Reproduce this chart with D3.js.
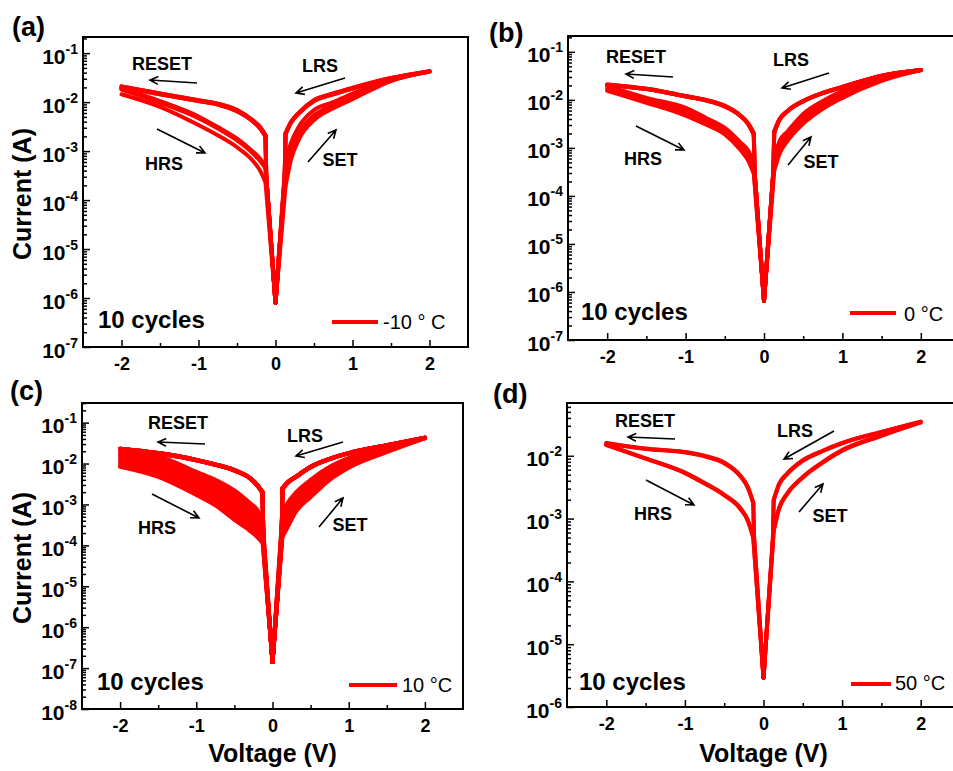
<!DOCTYPE html>
<html lang="en">
<head>
<meta charset="utf-8">
<title>I-V curves, 4 temperatures</title>
<script src="https://d3js.org/d3.v7.min.js"></script>
<style>
  body { margin: 0; background: #fff; }
  svg { display: block; }
  text { font-family: "Liberation Sans", Arial, sans-serif; }
</style>
</head>
<body>
<script>
// voltage grid (magnitude) on which every branch is read, plus the knee point
var vGrid = [0.13, 0.2, 0.3, 0.5, 0.75, 1, 1.5, 2];
var vKnee = 0.12;
var xTicks = [-2, -1, 0, 1, 2];
var xMinor = [-1.5, -0.5, 0.5, 1.5];

// (a) -10 C
var aSet = [
  [6.6e-4, 1.45e-3, 3.1e-3, 6.9e-3, 1.0e-2, 1.5e-2, 2.9e-2, 4.2e-2],
  [3.2e-4, 1.05e-3, 2.3e-3, 5.4e-3, 8.7e-3, 1.3e-2, 2.8e-2, 4.2e-2],
  [1.9e-4, 6.6e-4, 1.7e-3, 4.3e-3, 7.5e-3, 1.15e-2, 2.7e-2, 4.2e-2],
  [2.8e-4, 9.0e-4, 2.1e-3, 5.0e-3, 8.2e-3, 1.25e-2, 2.75e-2, 4.2e-2]
];
var aLrsPos = [
  [2.3e-3, 3.9e-3, 6.0e-3, 1.1e-2, 1.5e-2, 1.95e-2, 3.1e-2, 4.3e-2],
  [2.2e-3, 3.8e-3, 5.8e-3, 1.05e-2, 1.45e-2, 1.9e-2, 3.05e-2, 4.2e-2]
];
var aLrsNeg = [
  [2.1e-3, 3.1e-3, 4.3e-3, 6.9e-3, 9.3e-3, 1.1e-2, 1.5e-2, 2.1e-2],
  [2.0e-3, 2.9e-3, 4.1e-3, 6.5e-3, 8.9e-3, 1.05e-2, 1.45e-2, 2.0e-2]
];
var aHrsNeg = [
  [5.0e-4, 7.0e-4, 1.0e-3, 1.8e-3, 3.1e-3, 5.1e-3, 1.05e-2, 1.9e-2],
  [4.5e-4, 6.3e-4, 9.2e-4, 1.65e-3, 2.9e-3, 4.7e-3, 9.7e-3, 1.8e-2],
  [2.3e-4, 4.0e-4, 6.5e-4, 1.2e-3, 2.1e-3, 3.4e-3, 8.0e-3, 1.45e-2],
  [4.8e-4, 6.7e-4, 9.6e-4, 1.75e-3, 3.0e-3, 4.9e-3, 1.0e-2, 1.85e-2]
];

// (b) 0 C
var bSet = [
  [6.3e-4, 1.4e-3, 2.2e-3, 5.1e-3, 9.5e-3, 1.55e-2, 2.9e-2, 4.2e-2],
  [5.2e-4, 1.2e-3, 1.95e-3, 4.5e-3, 8.5e-3, 1.4e-2, 2.8e-2, 4.2e-2],
  [4.4e-4, 1.0e-3, 1.7e-3, 3.9e-3, 7.5e-3, 1.25e-2, 2.65e-2, 4.2e-2],
  [3.3e-4, 7.6e-4, 1.4e-3, 3.2e-3, 6.5e-3, 1.1e-2, 2.5e-2, 4.2e-2]
];
var bLrsPos = [
  [2.2e-3, 4.0e-3, 5.9e-3, 9.5e-3, 1.4e-2, 1.86e-2, 3.2e-2, 4.2e-2],
  [2.1e-3, 3.9e-3, 5.8e-3, 9.3e-3, 1.38e-2, 1.84e-2, 3.15e-2, 4.2e-2]
];
var bLrsNeg = [
  [2.0e-3, 3.2e-3, 4.7e-3, 7.5e-3, 1.0e-2, 1.2e-2, 1.7e-2, 2.1e-2],
  [1.9e-3, 3.1e-3, 4.6e-3, 7.3e-3, 9.8e-3, 1.18e-2, 1.68e-2, 2.05e-2]
];
var bHrsNeg = [
  [4.7e-4, 8.7e-4, 1.3e-3, 2.6e-3, 4.3e-3, 6.8e-3, 1.1e-2, 1.95e-2],
  [4.0e-4, 7.6e-4, 1.15e-3, 2.35e-3, 3.9e-3, 6.0e-3, 1.0e-2, 1.8e-2],
  [3.4e-4, 6.4e-4, 1.0e-3, 2.1e-3, 3.5e-3, 5.3e-3, 9.3e-3, 1.65e-2],
  [2.9e-4, 5.4e-4, 9.0e-4, 1.9e-3, 3.1e-3, 4.7e-3, 8.7e-3, 1.55e-2]
];

// (c) 10 C
var cSet = [
  [6.3e-4, 1.1e-3, 1.9e-3, 4.0e-3, 8.3e-3, 1.38e-2, 2.5e-2, 4.2e-2],
  [5.3e-4, 9.3e-4, 1.65e-3, 3.55e-3, 7.6e-3, 1.29e-2, 2.41e-2, 4.2e-2],
  [4.5e-4, 7.8e-4, 1.45e-3, 3.15e-3, 6.9e-3, 1.2e-2, 2.33e-2, 4.2e-2],
  [3.8e-4, 6.6e-4, 1.26e-3, 2.8e-3, 6.3e-3, 1.12e-2, 2.25e-2, 4.2e-2],
  [3.2e-4, 5.5e-4, 1.1e-3, 2.5e-3, 5.8e-3, 1.05e-2, 2.17e-2, 4.2e-2],
  [2.7e-4, 4.6e-4, 9.5e-4, 2.2e-3, 5.3e-3, 9.8e-3, 2.1e-2, 4.2e-2],
  [2.25e-4, 3.9e-4, 8.3e-4, 1.95e-3, 4.8e-3, 9.1e-3, 2.03e-2, 4.2e-2],
  [1.9e-4, 3.3e-4, 7.2e-4, 1.7e-3, 4.4e-3, 8.5e-3, 1.96e-2, 4.2e-2],
  [1.6e-4, 2.8e-4, 6.3e-4, 1.5e-3, 4.0e-3, 7.9e-3, 1.9e-2, 4.2e-2]
];
var cLrsPos = [
  [2.5e-3, 3.5e-3, 4.7e-3, 8.3e-3, 1.3e-2, 1.8e-2, 2.8e-2, 4.3e-2],
  [2.4e-3, 3.4e-3, 4.6e-3, 8.1e-3, 1.28e-2, 1.78e-2, 2.78e-2, 4.25e-2]
];
var cLrsNeg = [
  [2.0e-3, 3.0e-3, 4.5e-3, 6.9e-3, 9.5e-3, 1.23e-2, 1.8e-2, 2.3e-2],
  [1.9e-3, 2.9e-3, 4.4e-3, 6.7e-3, 9.3e-3, 1.2e-2, 1.75e-2, 2.2e-2]
];
var cHrsNeg = [
  [4.2e-4, 7.4e-4, 1.1e-3, 2.2e-3, 4.0e-3, 6.3e-3, 1.5e-2, 1.9e-2],
  [3.6e-4, 6.1e-4, 9.0e-4, 1.8e-3, 3.35e-3, 5.35e-3, 1.32e-2, 1.72e-2],
  [3.05e-4, 5.0e-4, 7.4e-4, 1.45e-3, 2.8e-3, 4.55e-3, 1.16e-2, 1.56e-2],
  [2.6e-4, 4.1e-4, 6.0e-4, 1.18e-3, 2.34e-3, 3.86e-3, 1.02e-2, 1.41e-2],
  [2.2e-4, 3.4e-4, 4.9e-4, 9.6e-4, 1.95e-3, 3.28e-3, 9.0e-3, 1.28e-2],
  [1.9e-4, 2.8e-4, 4.0e-4, 7.8e-4, 1.63e-3, 2.78e-3, 7.9e-3, 1.16e-2],
  [1.6e-4, 2.3e-4, 3.3e-4, 6.3e-4, 1.36e-3, 2.36e-3, 6.9e-3, 1.05e-2],
  [1.35e-4, 1.9e-4, 2.75e-4, 5.2e-4, 1.13e-3, 2.0e-3, 5.8e-3, 9.3e-3],
  [1.15e-4, 1.6e-4, 2.3e-4, 4.2e-4, 9.5e-4, 1.7e-3, 4.7e-3, 8.3e-3]
];

// (d) 50 C
var dSet = [
  [6.6e-4, 1.5e-3, 2.5e-3, 4.6e-3, 7.9e-3, 1.23e-2, 2.1e-2, 3.4e-2],
  [6.3e-4, 1.45e-3, 2.45e-3, 4.5e-3, 7.7e-3, 1.2e-2, 2.08e-2, 3.4e-2]
];
var dLrsPos = [
  [2.0e-3, 3.6e-3, 5.2e-3, 8.5e-3, 1.2e-2, 1.6e-2, 2.4e-2, 3.5e-2],
  [1.95e-3, 3.5e-3, 5.1e-3, 8.3e-3, 1.18e-2, 1.58e-2, 2.38e-2, 3.45e-2]
];
var dLrsNeg = [
  [1.8e-3, 3.2e-3, 4.9e-3, 7.8e-3, 1.0e-2, 1.15e-2, 1.3e-2, 1.6e-2],
  [1.75e-3, 3.1e-3, 4.8e-3, 7.6e-3, 9.8e-3, 1.13e-2, 1.28e-2, 1.58e-2]
];
var dHrsNeg = [
  [5.1e-4, 9.5e-4, 1.5e-3, 2.4e-3, 3.7e-3, 5.4e-3, 9.1e-3, 1.5e-2],
  [4.9e-4, 9.2e-4, 1.45e-3, 2.35e-3, 3.6e-3, 5.3e-3, 9.0e-3, 1.48e-2]
];

// panel setup: frame in px, y range (decades), dip and knee currents
var panels = [
  { tag: "(a)", l: 83, r: 468, t: 37, b: 347, yLo: -7, yHi: -0.67, dip: 8e-7, joint: 3e-4,
    set: aSet, lrsPos: aLrsPos, lrsNeg: aLrsNeg, hrsNeg: aHrsNeg, legend: "-10 ° C",
    ylab: true, xlab: false,
    lab: [12, 36], reset: [162, 70, 197, 83, 150, 80], lrs: [320, 72, 345, 78, 296, 93],
    hrs: [164, 170, 157, 129, 205, 153], setT: [340, 166, 308, 162, 336, 130],
    cyc: [98, 328], leg: [332, 378, 322, 383, 329] },
  { tag: "(b)", l: 568, r: 960, t: 36, b: 340, yLo: -7, yHi: -0.67, dip: 6.5e-7, joint: 3.2e-4,
    set: bSet, lrsPos: bLrsPos, lrsNeg: bLrsNeg, hrsNeg: bHrsNeg, legend: "0 °C",
    ylab: false, xlab: false,
    lab: [489, 42], reset: [636, 63, 673, 77, 626, 74], lrs: [791, 66, 829, 73, 782, 88],
    hrs: [643, 165, 636, 126, 684, 150], setT: [821, 168, 788, 165, 811, 137],
    cyc: [581, 320], leg: [850, 896, 313, 904, 321] },
  { tag: "(c)", l: 82, r: 463, t: 403, b: 709, yLo: -8, yHi: -0.52, dip: 1.4e-7, joint: 1.3e-4,
    set: cSet, lrsPos: cLrsPos, lrsNeg: cLrsNeg, hrsNeg: cHrsNeg, legend: "10 °C",
    ylab: true, xlab: true,
    lab: [10, 400], reset: [178, 429, 205, 444, 158, 442], lrs: [305, 442, 343, 442, 296, 456],
    hrs: [157, 534, 152, 494, 199, 518], setT: [350, 531, 319, 527, 343, 498],
    cyc: [97, 690], leg: [349, 397, 685, 402, 692] },
  { tag: "(d)", l: 567, r: 960, t: 403, b: 707, yLo: -6, yHi: -1.16, dip: 2.9e-6, joint: 5e-4,
    set: dSet, lrsPos: dLrsPos, lrsNeg: dLrsNeg, hrsNeg: dHrsNeg, legend: "50 °C",
    ylab: false, xlab: true,
    lab: [493, 403], reset: [645, 427, 675, 439, 628, 437], lrs: [795, 437, 834, 431, 784, 459],
    hrs: [653, 520, 646, 480, 694, 505], setT: [830, 522, 799, 512, 823, 484],
    cyc: [579, 690], leg: [851, 891, 684, 895, 690] }
];

var red = "#ff0000";
var svg = d3.select("body").append("svg").attr("width", 953).attr("height", 771);

panels.forEach(function (p, pi) {
  var x = d3.scaleLinear().domain([-2.5, 2.5]).range([p.l, p.r]);
  var y = d3.scaleLog().domain([Math.pow(10, p.yLo), Math.pow(10, p.yHi)]).range([p.b, p.t]);
  var g = svg.append("g");

  g.append("clipPath").attr("id", "clip" + pi).append("rect")
    .attr("x", p.l).attr("y", p.t).attr("width", p.r - p.l).attr("height", p.b - p.t);
  var plot = g.append("g").attr("clip-path", "url(#clip" + pi + ")");

  var smooth = d3.line().x(function (d) { return x(d[0]); }).y(function (d) { return y(d[1]); })
    .curve(d3.curveMonotoneX);
  var straight = d3.line().x(function (d) { return x(d[0]); }).y(function (d) { return y(d[1]); });

  function draw(pts, gen) {
    pts.sort(function (a, b) { return a[0] - b[0]; });
    plot.append("path").attr("d", gen(pts)).attr("fill", "none").attr("stroke", red)
      .attr("stroke-width", 4).attr("stroke-linejoin", "round").attr("stroke-linecap", "round");
  }

  var n = d3.max([p.set.length, p.lrsPos.length, p.lrsNeg.length, p.hrsNeg.length]);
  d3.range(n).forEach(function (i) {
    var s = p.set[i % p.set.length], lp = p.lrsPos[i % p.lrsPos.length];
    var ln = p.lrsNeg[i % p.lrsNeg.length], hn = p.hrsNeg[i % p.hrsNeg.length];
    // SET branch 0 -> +2
    draw([[0, p.dip], [vGrid[0], s[0]]], straight);
    draw(vGrid.map(function (v, k) { return [v, s[k]]; }), smooth);
    // LRS branch +2 -> 0
    draw(vGrid.map(function (v, k) { return [v, lp[k]]; }), smooth);
    draw([[0, p.dip], [vKnee, p.joint], [vGrid[0], lp[0]]], straight);
    // RESET branch 0 -> -2
    draw([[0, p.dip], [-vKnee, p.joint], [-vGrid[0], ln[0]]], straight);
    draw(vGrid.map(function (v, k) { return [-v, ln[k]]; }), smooth);
    // HRS branch -2 -> 0
    draw(vGrid.map(function (v, k) { return [-v, hn[k]]; }), smooth);
    draw([[0, p.dip], [-vGrid[0], hn[0]]], straight);
  });

  // frame
  g.append("rect").attr("x", p.l).attr("y", p.t).attr("width", p.r - p.l).attr("height", p.b - p.t)
    .attr("fill", "none").attr("stroke", "#000").attr("stroke-width", 2);

  // x axis (ticks inward)
  var xa = g.append("g").attr("transform", "translate(0," + p.b + ")")
    .call(d3.axisBottom(x).tickValues(xTicks).tickSize(-7).tickPadding(9)
      .tickFormat(function (d) { return String(d); }));
  g.append("g").attr("transform", "translate(0," + p.b + ")")
    .call(d3.axisBottom(x).tickValues(xMinor).tickSize(-4).tickFormat(""));

  // y axis, log decades + minor ticks
  var majors = d3.range(Math.ceil(p.yLo), Math.floor(p.yHi) + 1).map(function (e) { return Math.pow(10, e); });
  var minors = [];
  d3.range(Math.floor(p.yLo), Math.ceil(p.yHi)).forEach(function (e) {
    for (var k = 2; k < 10; k++) {
      var v = k * Math.pow(10, e);
      if (Math.log10(v) < p.yHi) minors.push(v);
    }
  });
  var ya = g.append("g").attr("transform", "translate(" + p.l + ",0)")
    .call(d3.axisLeft(y).tickValues(majors).tickSize(-7).tickPadding(6).tickFormat(function () { return ""; }));
  g.append("g").attr("transform", "translate(" + p.l + ",0)")
    .call(d3.axisLeft(y).tickValues(minors).tickSize(-4).tickFormat(""));

  g.selectAll(".domain").remove();
  g.selectAll(".tick line").attr("stroke", "#000").attr("stroke-width", 1.5);

  xa.selectAll(".tick text").attr("font-size", 18).attr("font-weight", "bold")
    .attr("font-family", "Liberation Sans, Arial, sans-serif").attr("fill", "#000")
    .attr("dy", null).attr("y", 23);

  ya.selectAll(".tick text").each(function (d) {
    var t = d3.select(this);
    t.text(null).attr("dy", null).attr("y", 10).attr("x", -5)
      .attr("font-family", "Liberation Sans, Arial, sans-serif").attr("fill", "#000")
      .attr("font-weight", "bold").attr("font-size", 21);
    t.append("tspan").text("10");
    t.append("tspan").attr("dy", -10).attr("font-size", 14).text(String(Math.round(Math.log10(d))));
  });

  // axis titles
  if (p.ylab) {
    svg.append("text").attr("transform", "translate(31," + ((p.t + p.b) / 2 + 2) + ") rotate(-90)")
      .attr("text-anchor", "middle").attr("font-size", 25).attr("font-weight", "bold").text("Current (A)");
  }
  if (p.xlab) {
    svg.append("text").attr("x", x(0)).attr("y", 762)
      .attr("text-anchor", "middle").attr("font-size", 25).attr("font-weight", "bold").text("Voltage (V)");
  }

  // panel tag
  svg.append("text").attr("x", p.lab[0]).attr("y", p.lab[1]).attr("font-size", 27)
    .attr("font-weight", "bold").text(p.tag);

  // annotations with arrows
  function note(a, label) {
    g.append("text").attr("x", a[0]).attr("y", a[1]).attr("text-anchor", "middle")
      .attr("font-size", 18).attr("font-weight", "bold").text(label);
    var ang = Math.atan2(a[5] - a[3], a[4] - a[2]), hl = 9, hw = 0.45;
    var path = d3.path();
    path.moveTo(a[2], a[3]); path.lineTo(a[4], a[5]);
    path.moveTo(a[4] - hl * Math.cos(ang - hw), a[5] - hl * Math.sin(ang - hw));
    path.lineTo(a[4], a[5]);
    path.lineTo(a[4] - hl * Math.cos(ang + hw), a[5] - hl * Math.sin(ang + hw));
    g.append("path").attr("d", path.toString()).attr("fill", "none").attr("stroke", "#000")
      .attr("stroke-width", 1.6);
  }
  note(p.reset, "RESET");
  note(p.lrs, "LRS");
  note(p.hrs, "HRS");
  note(p.setT, "SET");

  g.append("text").attr("x", p.cyc[0]).attr("y", p.cyc[1]).attr("font-size", 24)
    .attr("font-weight", "bold").text("10 cycles");

  g.append("line").attr("x1", p.leg[0]).attr("x2", p.leg[1]).attr("y1", p.leg[2]).attr("y2", p.leg[2])
    .attr("stroke", red).attr("stroke-width", 4);
  g.append("text").attr("x", p.leg[3]).attr("y", p.leg[4]).attr("font-size", 20).text(p.legend);
});
</script>
</body>
</html>
